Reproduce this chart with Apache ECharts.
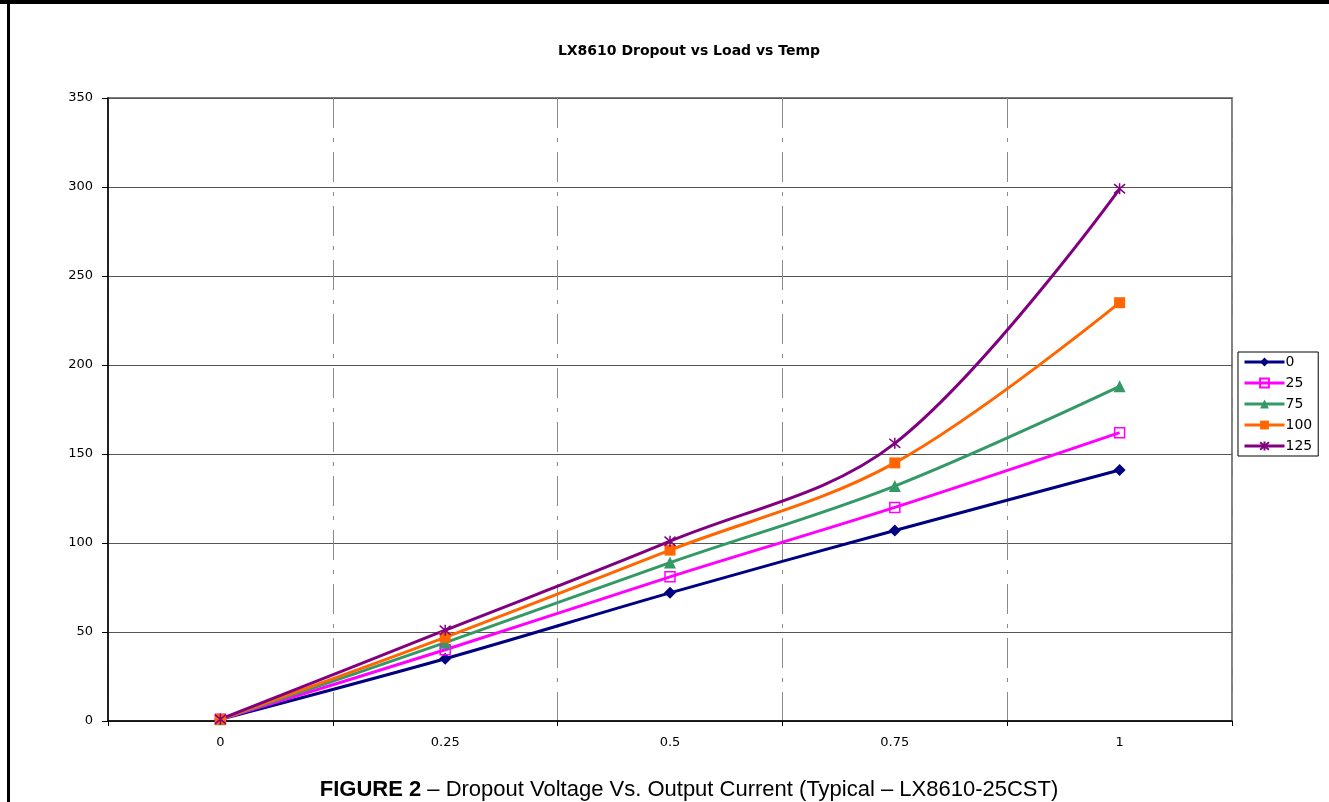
<!DOCTYPE html>
<html>
<head>
<meta charset="utf-8">
<script src="https://cdn.jsdelivr.net/npm/echarts@6/dist/echarts.min.js"></script>
<style>
  html, body { margin: 0; padding: 0; background: #fff; }
  #chart { width: 1329px; height: 802px; }
</style>
</head>
<body>
<div id="chart"></div>
<script>
// load (x) categories
const loads = ["0", "0.25", "0.5", "0.75", "1"];
// dropout (mV) per temperature
const t0 = [1, 35, 72, 107, 141];
const t25 = [1, 40, 81, 120, 162];
const t75 = [1, 44, 89, 132, 188];
const t100 = [1, 47, 96, 145, 235];
const t125 = [1, 51, 101, 156, 299];
const yTicks = { min: 0, max: 350, interval: 50 };

const chart = echarts.init(document.getElementById("chart"), null, { renderer: "canvas" });

const mk = (name, data, color, symbol, size, hollow) => ({
  type: "line",
  name: name,
  data: data,
  smooth: 0.35,
  symbol: symbol,
  symbolSize: size,
  lineStyle: { color: color, width: 3 },
  itemStyle: hollow
    ? { color: "rgba(255,255,255,0)", borderColor: color, borderWidth: 1.5 }
    : { color: color, borderColor: color, borderWidth: 0 },
  emphasis: { disabled: true },
  z: 3,
});

const star = "path://M0,0L10,10M10,0L0,10M5,-1L5,11";

chart.setOption({
  animation: false,
  backgroundColor: "#fff",
  textStyle: { fontFamily: "Liberation Sans, Arial, sans-serif" },
  title: [
    {
      text: "LX8610 Dropout vs Load vs Temp",
      left: 684,
      top: 39,
      textAlign: "center",
      textStyle: { fontSize: 14, fontWeight: "bold", color: "#000", fontFamily: "DejaVu Sans" },
    },
    {
      text: "{b|FIGURE 2} – Dropout Voltage Vs. Output Current (Typical – LX8610-25CST)",
      left: 684,
      top: 774,
      textAlign: "center",
      textStyle: {
        fontSize: 22,
        fontWeight: "normal",
        color: "#000",
        rich: { b: { fontSize: 22, fontWeight: "bold", color: "#000" } },
      },
    },
  ],
  legend: {
    orient: "vertical",
    left: 1238,
    top: 352,
    padding: [3, 6, 3, 5],
    itemWidth: 40,
    itemHeight: 11,
    itemGap: 7,
    borderColor: "#000",
    borderWidth: 1,
    backgroundColor: "#fff",
    lineStyle: { width: 3 },
    textStyle: { fontSize: 14, color: "#000", padding: [0, 0, 0, -4], fontFamily: "DejaVu Sans" },
  },
  grid: {
    left: 108,
    right: 97,
    top: 98,
    bottom: 81,
    show: true,
    borderColor: "#808080",
    borderWidth: 2,
    containLabel: false,
  },
  xAxis: {
    type: "category",
    data: loads,
    boundaryGap: true,
    axisLine: { lineStyle: { color: "#000", width: 1.5 } },
    axisTick: { show: true, length: 5, inside: false, lineStyle: { color: "#000" } },
    axisLabel: { margin: 15, fontSize: 13, color: "#000", fontFamily: "DejaVu Sans" },
    splitLine: {
      show: true,
      lineStyle: { color: "#8a8a8a", width: 1, type: [30, 10, 4, 10] },
    },
  },
  yAxis: {
    type: "value",
    min: yTicks.min,
    max: yTicks.max,
    interval: yTicks.interval,
    axisLine: { show: true, lineStyle: { color: "#000", width: 1.5 } },
    axisTick: { show: true, length: 6, lineStyle: { color: "#000" } },
    axisLabel: { margin: 15, fontSize: 13, color: "#000", fontFamily: "DejaVu Sans" },
    splitLine: { show: true, lineStyle: { color: "#555", width: 1.2 } },
  },
  graphic: [
    { type: "rect", shape: { x: 0, y: 0, width: 1329, height: 4 }, style: { fill: "#000" } },
    { type: "rect", shape: { x: 7, y: 0, width: 3, height: 802 }, style: { fill: "#000" } },
  ],
  series: [
    mk("0", t0, "#000080", "diamond", 12, false),
    mk("25", t25, "#FF00FF", "rect", 10, true),
    mk("75", t75, "#339966", "triangle", 12, false),
    mk("100", t100, "#FF6600", "rect", 11, false),
    {
      ...mk("125", t125, "#800080", star, 11, true),
      itemStyle: { color: "none", borderColor: "#800080", borderWidth: 1.5 },
    },
  ],
});
</script>
</body>
</html>
